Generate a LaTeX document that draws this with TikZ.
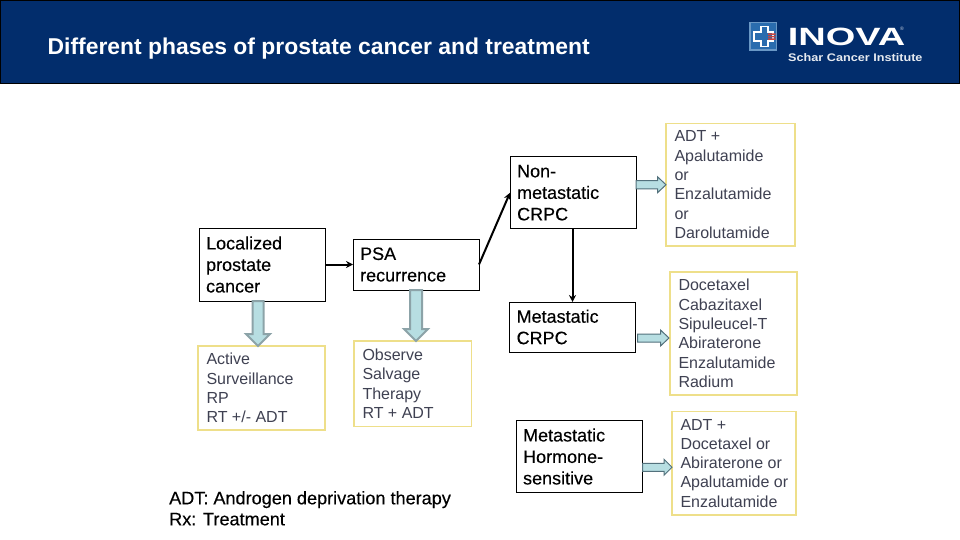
\documentclass[tikz,border=0pt]{standalone}
\usepackage{fontspec}
\setmainfont{Liberation Sans}
\newfontfamily\fauxfont[FakeBold=0.25]{Liberation Sans}
\usetikzlibrary{calc,arrows.meta}
\definecolor{navy}{HTML}{022D6C}
\definecolor{softgrey}{HTML}{3F4152}
\definecolor{boxyellow}{HTML}{EEDF8A}
\definecolor{arrowfill}{HTML}{B7DEE2}
\definecolor{arrowedge}{HTML}{8CA3A8}
\definecolor{thinedge}{HTML}{53717C}
\definecolor{iconblue}{HTML}{2A6CAE}
\definecolor{iconred}{HTML}{C8443F}
\tikzset{
  stagebox/.style={draw=black,line width=1pt,fill=white,anchor=north west,inner sep=0pt,outer sep=0pt,
    align=left,font=\fauxfont\fontsize{18}{21.5}\selectfont},
  treatbox/.style={draw=boxyellow,line width=1.4pt,fill=white,anchor=north west,inner sep=0pt,outer sep=0pt,
    align=left,text=softgrey,font=\fontsize{16}{19.3}\selectfont},
  link/.style={draw=black,line width=2pt,-{Stealth[length=7pt,width=7pt]}},
  widearrow/.style={fill=arrowfill,draw=arrowedge,line width=2pt,line join=miter},
  slimarrow/.style={fill=arrowfill,draw=thinedge,line width=1pt,line join=miter},
}
% #1 style, #2 start, #3 tip, #4 half shaft, #5 half head, #6 head length
\newcommand{\blockarr}[6]{%
  \coordinate (ba1) at #2;
  \coordinate (ba2) at #3;
  \coordinate (ba3) at ($(ba2)!#6pt!(ba1)$);
  \draw[#1] ($(ba1)!#4pt!90:(ba2)$) -- ($(ba3)!#4pt!-90:(ba1)$) -- ($(ba3)!#5pt!-90:(ba1)$) -- (ba2)
    -- ($(ba3)!#5pt!90:(ba1)$) -- ($(ba3)!#4pt!90:(ba1)$) -- ($(ba1)!#4pt!-90:(ba2)$) -- cycle;
}
\newcommand{\stagetxt}[5]{\node[stagebox,minimum width=#3pt,minimum height=#4pt] (#1) at #2 {\hspace*{6.2pt}\begin{minipage}{\dimexpr#3pt-8pt\relax}\raggedright #5\end{minipage}};}
\newcommand{\treattxt}[5]{\node[treatbox,minimum width=#3pt,minimum height=#4pt] (#1) at #2 {\hspace*{8pt}\begin{minipage}{\dimexpr#3pt-9pt\relax}\raggedright #5\end{minipage}};}
\begin{document}
\begin{tikzpicture}[x=1pt,y=-1pt]
\useasboundingbox (0,0) rectangle (960,540);
\fill[white] (0,0) rectangle (960,540);
\draw[fill=navy,draw=black,line width=1pt] (0.5,0.5) rectangle (959.5,84);
\node[anchor=west,inner sep=0pt,text=white,font=\bfseries\fontsize{22.9}{26}\selectfont] (title) at (47.5,48.5) {Different phases of prostate cancer and treatment};
% logo
\fill[iconblue!70!white] (749,22) rectangle (777,51);
\fill[iconblue] (750.5,23.5) rectangle (775.5,49.5);
\draw[white,line width=1.3pt] (761,26.5) -- (768,26.5) -- (768,32) -- (773,32) -- (773,41) -- (768,41) -- (768,46.5) -- (761,46.5) -- (761,41) -- (754,41) -- (754,32) -- (761,32) -- cycle;
\fill[iconred] (768,33.5) rectangle (775.5,35) (768,36) rectangle (775.5,37.5) (768,38.5) rectangle (775.5,40);
\node[anchor=west,inner sep=0pt,text=white,font=\bfseries\fontsize{25}{25}\selectfont,xscale=1.52] (brand) at (787.5,37) {INOVA};
\node[anchor=west,inner sep=0pt,text=white!80!navy,font=\fontsize{5}{5}\selectfont] (reg) at (900,29) {®};
\node[anchor=west,inner sep=0pt,text=white!90!navy,font=\bfseries\fontsize{11}{11}\selectfont,xscale=1.15] (inst) at (788,57.5) {Schar Cancer Institute};
% stages
\stagetxt{loc}{(199,228)}{126}{73}{Localized\\prostate\\cancer}
\stagetxt{psa}{(353,239)}{126}{51}{PSA\\recurrence}
\stagetxt{nonmeta}{(510,157)}{126}{71.5}{Non-\\metastatic\\CRPC}
\stagetxt{meta}{(509.5,302)}{126}{50}{Metastatic\\CRPC}
\stagetxt{horm}{(516,420.5)}{126.5}{72}{Metastatic\\Hormone-\\sensitive}
% treatments
\treattxt{active}{(198,346)}{127}{84}{Active\\Surveillance\\RP\\RT +/- ADT}
\treattxt{observe}{(354,341)}{117.5}{85.5}{Observe\\Salvage\\Therapy\\RT + ADT}
\treattxt{adta}{(666,123.5)}{129}{122.5}{ADT +\\Apalutamide\\or\\Enzalutamide\\or\\Darolutamide}
\treattxt{doce}{(670,272)}{127}{123}{Docetaxel\\Cabazitaxel\\Sipuleucel-T\\Abiraterone\\Enzalutamide\\Radium}
\treattxt{adtb}{(672,411.5)}{124}{103.5}{ADT +\\Docetaxel or\\Abiraterone or\\Apalutamide or\\Enzalutamide}
% connectors
\draw[link] (loc.east) -- (psa.west);
\draw[link] (psa.east) -- (nonmeta.west);
\draw[link] (nonmeta.south -| meta.north) -- (meta.north);
% block arrows
\blockarr{widearrow}{([xshift=-4pt]loc.south)}{([xshift=-4pt]loc.south |- active.north)}{5.5}{12}{12}
\blockarr{widearrow}{(psa.south)}{(psa.south |- observe.north)}{6}{12}{12}
\blockarr{slimarrow}{(nonmeta.east |- adta.west)}{(adta.west)}{4}{8}{8.5}
\blockarr{slimarrow}{([xshift=2pt,yshift=-4.5pt]meta.east |- doce.west)}{([xshift=-1pt,yshift=-4.5pt]doce.west)}{4}{8}{8.5}
\blockarr{slimarrow}{([yshift=-4pt]horm.east |- adtb.west)}{([yshift=-4pt]adtb.west)}{4}{8}{8}
% legend
\node[anchor=north west,inner sep=0pt,align=left,font=\fauxfont\fontsize{18.1}{21}\selectfont] (legend) at (169,491) {ADT: Androgen deprivation therapy\\Rx: Treatment};
\end{tikzpicture}
\end{document}
